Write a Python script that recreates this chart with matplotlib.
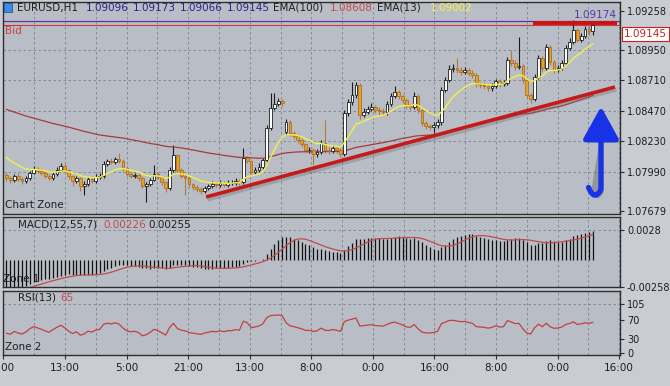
import numpy as np
import pandas as pd
import matplotlib
matplotlib.use('Agg')
import matplotlib.pyplot as plt
from matplotlib.path import Path
from matplotlib.patches import FancyArrowPatch, Rectangle
import matplotlib.patheffects as pe

# ---- EURUSD H1 candles ----
closes = [1.07942, 1.07926, 1.07958, 1.07934, 1.07919, 1.07942, 1.07982, 1.08013, 1.07997, 1.07982,
          1.07958, 1.07942, 1.07974, 1.08005, 1.08037, 1.08005, 1.07958, 1.07919, 1.07942, 1.07879,
          1.07895, 1.07934, 1.07919, 1.07950, 1.07958, 1.08052, 1.08076, 1.08068, 1.08092, 1.08076,
          1.08021, 1.07974, 1.07958, 1.07966, 1.07942, 1.07879, 1.07895, 1.07926, 1.07974, 1.07950,
          1.07911, 1.07863, 1.08005, 1.08123, 1.08005, 1.07958, 1.07942, 1.07895, 1.07871, 1.07856,
          1.07840, 1.07863, 1.07879, 1.07895, 1.07887, 1.07903, 1.07887, 1.07903, 1.07903, 1.07919,
          1.07911, 1.08100, 1.08076, 1.07989, 1.08005, 1.08029, 1.08084, 1.08336, 1.08493, 1.08525,
          1.08548, 1.08532, 1.08383, 1.08296, 1.08273, 1.08241, 1.08210, 1.08163, 1.08163, 1.08131,
          1.08147, 1.08218, 1.08163, 1.08155, 1.08178, 1.08163, 1.08131, 1.08454, 1.08540, 1.08595,
          1.08674, 1.08438, 1.08462, 1.08485, 1.08501, 1.08477, 1.08469, 1.08462, 1.08525, 1.08588,
          1.08619, 1.08588, 1.08556, 1.08509, 1.08501, 1.08588, 1.08477, 1.08375, 1.08351, 1.08344,
          1.08359, 1.08383, 1.08635, 1.08713, 1.08800, 1.08808, 1.08792, 1.08776, 1.08792, 1.08769,
          1.08753, 1.08682, 1.08674, 1.08666, 1.08650, 1.08666, 1.08706, 1.08682, 1.08690, 1.08871,
          1.08847, 1.08816, 1.08824, 1.08713, 1.08595, 1.08564, 1.08737, 1.08887, 1.08808, 1.08973,
          1.08855, 1.08792, 1.08808, 1.08847, 1.08965, 1.09013, 1.09107, 1.09028, 1.09060, 1.09115,
          1.09096, 1.09145]
highs = [1.07990, 1.07960, 1.07975, 1.07980, 1.07950, 1.07960, 1.08000, 1.08040, 1.08030, 1.08010,
         1.07995, 1.07970, 1.07990, 1.08025, 1.08060, 1.08050, 1.08015, 1.07965, 1.07960, 1.07950,
         1.07915, 1.07950, 1.07955, 1.07970, 1.07985, 1.08075, 1.08095, 1.08100, 1.08110, 1.08139,
         1.08090, 1.08035, 1.07990, 1.07985, 1.07980, 1.07955, 1.07910, 1.07945, 1.08045, 1.07990,
         1.07960, 1.07920, 1.08025, 1.08202, 1.08135, 1.08020, 1.07975, 1.07955, 1.07905, 1.07885,
         1.07870, 1.07880, 1.07895, 1.07915, 1.07910, 1.07925, 1.07915, 1.07930, 1.07925, 1.07940,
         1.07935, 1.08178, 1.08115, 1.08085, 1.08025, 1.08060, 1.08100, 1.08360, 1.08611, 1.08611,
         1.08575, 1.08565, 1.08405, 1.08400, 1.08310, 1.08285, 1.08255, 1.08220, 1.08185, 1.08180,
         1.08170, 1.08240, 1.08399, 1.08190, 1.08200, 1.08195, 1.08185, 1.08475, 1.08560, 1.08698,
         1.08698, 1.08690, 1.08490, 1.08510, 1.08530, 1.08520, 1.08500, 1.08490, 1.08545, 1.08610,
         1.08666, 1.08635, 1.08600, 1.08570, 1.08525, 1.08619, 1.08600, 1.08490, 1.08390, 1.08370,
         1.08380, 1.08405, 1.08660, 1.08735, 1.08830, 1.08840, 1.08887, 1.08815, 1.08815, 1.08805,
         1.08790, 1.08765, 1.08700, 1.08695, 1.08680, 1.08690, 1.08725, 1.08720, 1.08715, 1.08895,
         1.08950, 1.08870, 1.09052, 1.08840, 1.08730, 1.08610, 1.08760, 1.08910, 1.08900, 1.08995,
         1.08990, 1.08870, 1.08830, 1.08870, 1.08985, 1.09040, 1.09186, 1.09120, 1.09085, 1.09140,
         1.09150, 1.09173]
lows = [1.07920, 1.07905, 1.07910, 1.07915, 1.07895, 1.07905, 1.07930, 1.07970, 1.07980, 1.07965,
        1.07940, 1.07925, 1.07930, 1.07960, 1.07995, 1.07990, 1.07935, 1.07880, 1.07905, 1.07840,
        1.07809, 1.07880, 1.07900, 1.07905, 1.07935, 1.07945, 1.08040, 1.08050, 1.08055, 1.08060,
        1.08000, 1.07955, 1.07940, 1.07945, 1.07920, 1.07860, 1.07753, 1.07880, 1.07915, 1.07935,
        1.07890, 1.07830, 1.07850, 1.07990, 1.07985, 1.07940, 1.07809, 1.07875, 1.07850, 1.07835,
        1.07820, 1.07825, 1.07850, 1.07865, 1.07870, 1.07875, 1.07870, 1.07875, 1.07885, 1.07890,
        1.07890, 1.07895, 1.08060, 1.07970, 1.07975, 1.07990, 1.08015, 1.08070, 1.08320, 1.08480,
        1.08505, 1.08510, 1.08280, 1.08275, 1.08250, 1.08220, 1.08190, 1.08145, 1.08140, 1.08045,
        1.08110, 1.08130, 1.08140, 1.08130, 1.08140, 1.08140, 1.08105, 1.08115, 1.08430, 1.08520,
        1.08570, 1.08410, 1.08420, 1.08445, 1.08470, 1.08455, 1.08440, 1.08435, 1.08440, 1.08505,
        1.08570, 1.08565, 1.08535, 1.08485, 1.08480, 1.08485, 1.08455, 1.08350, 1.08330, 1.08320,
        1.08300, 1.08335, 1.08360, 1.08615, 1.08700, 1.08780, 1.08770, 1.08755, 1.08760, 1.08745,
        1.08730, 1.08660, 1.08650, 1.08640, 1.08625, 1.08630, 1.08650, 1.08660, 1.08665, 1.08675,
        1.08825, 1.08795, 1.08800, 1.08690, 1.08570, 1.08532, 1.08550, 1.08720, 1.08785, 1.08790,
        1.08830, 1.08770, 1.08775, 1.08790, 1.08830, 1.08950, 1.09000, 1.09010, 1.09010, 1.09045,
        1.09070, 1.09066]
first_open = 1.07966
gap_opens = {72: 1.08304}   # weekend gap

# indicator levels at the left edge of the chart
ema100_seed = 1.08493
ema13_seed = 1.08130
macd_fast_seed = 1.07945
macd_slow_seed = 1.08245
rsi_gain_seed = 0.00011
rsi_loss_seed = 0.00013

bid = 1.09145
ask = 1.09174
resistance_x = [135.6, 157.2]
resistance_y = [1.09158, 1.09158]
trend_x = [51.4, 156.7]
trend_y = [1.07793, 1.08658]

price_ticks = [1.09258, 1.08950, 1.08710, 1.08470, 1.08230, 1.07990, 1.07679]
price_grid = [1.08950, 1.08710, 1.08470, 1.08230, 1.07990]
macd_ticks = [0.0028, -0.00258]
rsi_ticks = [105, 70, 30, 0]
time_labels = ['0:00', '13:00', '5:00', '21:00', '13:00', '8:00',
               '0:00', '16:00', '8:00', '0:00', '16:00']

W, H = 670, 386


def px(x, y):
    return x / W, 1 - y / H


def ema(values, n, seed):
    a = 2.0 / (n + 1)
    out, e = [], seed
    for v in values:
        e = e + a * (v - e)
        out.append(e)
    return np.array(out)


def wilder_rsi(values, n, prev, g0, l0):
    out, g, lo = [], g0, l0
    for v in values:
        d = v - prev
        prev = v
        g = (g * (n - 1) + max(d, 0)) / n
        lo = (lo * (n - 1) + max(-d, 0)) / n
        out.append(100 - 100 / (1 + g / lo))
    return np.array(out)


c = np.array(closes)
h = np.array(highs)
l = np.array(lows)
o = np.array([first_open] + closes[:-1])
for k, v in gap_opens.items():
    o[k] = v
x = np.arange(len(c))

ema13 = ema(c, 13, ema13_seed)
ema100 = ema(c, 100, ema100_seed)
macd = ema(c, 12, macd_fast_seed) - ema(c, 55, macd_slow_seed)
signal = pd.Series(macd).rolling(7, min_periods=1).mean().values
rsi = wilder_rsi(c, 13, first_open, rsi_gain_seed, rsi_loss_seed)

panel_bg = '#b9bec6'
edge = '#2e2e2e'
txt = '#1e1e1e'
grid_kw = dict(color='#7c838e', lw=0.6, ls=(0, (3, 3)))

fig = plt.figure(figsize=(6.7, 3.86), dpi=100, facecolor='#c9ccd2')
ax = fig.add_axes([3 / W, 1 - 214 / H, 617 / W, 212 / H])
ax_m = fig.add_axes([3 / W, 1 - 287 / H, 617 / W, 70 / H], sharex=ax)
ax_r = fig.add_axes([3 / W, 1 - 355 / H, 617 / W, 64 / H], sharex=ax)

grid_pos = -0.8 + 7.93 * np.arange(21)
for a in (ax, ax_m, ax_r):
    a.set_facecolor(panel_bg)
    for s in a.spines.values():
        s.set_color(edge)
        s.set_linewidth(1.0)
    a.yaxis.tick_right()
    a.tick_params(axis='y', direction='out', length=3, color=edge,
                  labelsize=7, labelcolor=txt, pad=2)
    a.tick_params(axis='x', direction='out', length=3, color=edge)
    for g in grid_pos:
        a.axvline(g, zorder=0.5, **grid_kw)
ax.set_xlim(-0.9, 158.0)
ax.set_xticks(grid_pos[::2])
ax_r.set_xticklabels(time_labels)
ax_r.tick_params(axis='x', labelsize=7.5, labelcolor=txt, pad=3)
plt.setp(ax.get_xticklabels(), visible=False)
plt.setp(ax_m.get_xticklabels(), visible=False)
ax.tick_params(axis='x', length=0)
ax_m.tick_params(axis='x', length=0)

# ---- main price panel ----
ax.set_ylim(1.07659, 1.09327)
ax.set_yticks(price_ticks)
ax.set_yticklabels([f'{t:.5f}' for t in price_ticks])
for p in price_grid:
    ax.axhline(p, zorder=0.5, **grid_kw)

up = c >= o
dn = ~up
ax.vlines(x[up], l[up], h[up], color='#1c1c1c', lw=0.8, zorder=2)
ax.vlines(x[dn], l[dn], h[dn], color='#b47a3c', lw=0.8, zorder=2)
ax.bar(x[up], np.maximum(c[up] - o[up], 0.00002), bottom=o[up], width=0.7,
       color='white', edgecolor='#1c1c1c', lw=0.6, zorder=3)
ax.bar(x[dn], np.maximum(o[dn] - c[dn], 0.00002), bottom=c[dn], width=0.7,
       color='#e3a22c', edgecolor='#b07020', lw=0.6, zorder=3)

ax.plot(x, ema100, color='#a83a3a', lw=0.9, zorder=2.5)
ax.plot(x, ema13, color='#f2f04a', lw=1.0, zorder=4)

ax.axhline(ask, color='#5a34a8', lw=0.9, zorder=1)
ax.axhline(bid, color='#d23a3a', lw=0.8, zorder=1)
ax.plot(resistance_x, resistance_y, color='#c81414', lw=2.8, solid_capstyle='butt', zorder=5)

shadow = [pe.SimpleLineShadow(offset=(1, -2), shadow_color='#6a6e75', alpha=0.35), pe.Normal()]
ax.plot(trend_x, trend_y, color='#c41a1a', lw=2.6, solid_capstyle='butt',
        zorder=5, path_effects=shadow)

arrow_path = Path([(149.9, 1.07868), (151.4, 1.07755), (153.1, 1.07850), (153.1, 1.08505)],
                  [Path.MOVETO, Path.CURVE3, Path.CURVE3, Path.LINETO])
arrow = FancyArrowPatch(path=arrow_path, arrowstyle='-|>,head_length=1.0,head_width=0.55',
                        mutation_scale=20, color='#1832e8', lw=3.8, zorder=6,
                        path_effects=[pe.SimplePatchShadow(offset=(2, -2), alpha=0.35), pe.Normal()])
ax.add_patch(arrow)

ax.text(0.004, 0.862, 'Bid', transform=ax.transAxes, color='#d23a3a', fontsize=7.5, va='center')
ax.text(0.004, 0.043, 'Chart Zone', transform=ax.transAxes, color=txt, fontsize=7.5, va='center')
ax.text(157.3, ask + 0.0001, f'{ask:.5f}', color='#5a34a8', fontsize=7.5, ha='right', va='bottom')

# header
fig.patches.append(Rectangle(px(4, 12), 8 / W, 9 / H, transform=fig.transFigure,
                             facecolor='#3b8fe0', edgecolor='#1c5aa8', lw=0.6))
hy = 1 - 8 / H
fig.text(17 / W, hy, 'EURUSD,H1', fontsize=7.5, color=txt, va='center')
for xx, s in [(86, '1.09096'), (133, '1.09173'), (180, '1.09066'), (227, '1.09145')]:
    fig.text(xx / W, hy, s, fontsize=7.5, color='#23238a', va='center')
fig.text(273 / W, hy, 'EMA(100)', fontsize=7.5, color=txt, va='center')
fig.text(330 / W, hy, '1.08608', fontsize=7.5, color='#c24a4a', va='center')
fig.text(377 / W, hy, 'EMA(13)', fontsize=7.5, color=txt, va='center')
fig.text(430 / W, hy, '1.09002', fontsize=7.5, color='#f4f04a', va='center')

fig.text(624 / W, 1 - 34 / H, f'{bid:.5f}', fontsize=7.5, color='#c82020', va='center',
         bbox=dict(boxstyle='square,pad=0.2', facecolor='white', edgecolor='#c82020', lw=0.8))

# ---- MACD panel ----
ax_m.set_ylim(-0.00258, 0.00403)
ax_m.set_yticks(macd_ticks)
ax_m.set_yticklabels(['0.0028', '-0.00258'])
ax_m.axhline(0.0028, zorder=0.5, **grid_kw)
ax_m.text(0.0, 0.11, 'Zone 1', transform=ax_m.transAxes, fontsize=7.5, color=txt,
          va='center', zorder=1)
ax_m.vlines(x, 0, macd, color='#111111', lw=0.9, zorder=2)
ax_m.plot(x, signal, color='#c24a4a', lw=0.9, zorder=3)
fig.text(18 / W, 1 - 225 / H, 'MACD(12,55,7)', fontsize=7.5, color=txt, va='center')
fig.text(103 / W, 1 - 225 / H, '0.00226', fontsize=7.5, color='#c24a4a', va='center')
fig.text(148 / W, 1 - 225 / H, '0.00255', fontsize=7.5, color=txt, va='center')

# ---- RSI panel ----
ax_r.set_ylim(-4.3, 132.8)
ax_r.set_yticks(rsi_ticks)
ax_r.axhline(105, zorder=0.5, **grid_kw)
ax_r.plot(x, rsi, color='#c24040', lw=0.9, zorder=3)
ax_r.text(0.003, 0.13, 'Zone 2', transform=ax_r.transAxes, fontsize=7.5, color=txt, va='center')
fig.text(18 / W, 1 - 298 / H, 'RSI(13)', fontsize=7.5, color=txt, va='center')
fig.text(60 / W, 1 - 298 / H, '65', fontsize=7.5, color='#c24a4a', va='center')

fig.savefig('out.png', dpi=100, facecolor=fig.get_facecolor())
